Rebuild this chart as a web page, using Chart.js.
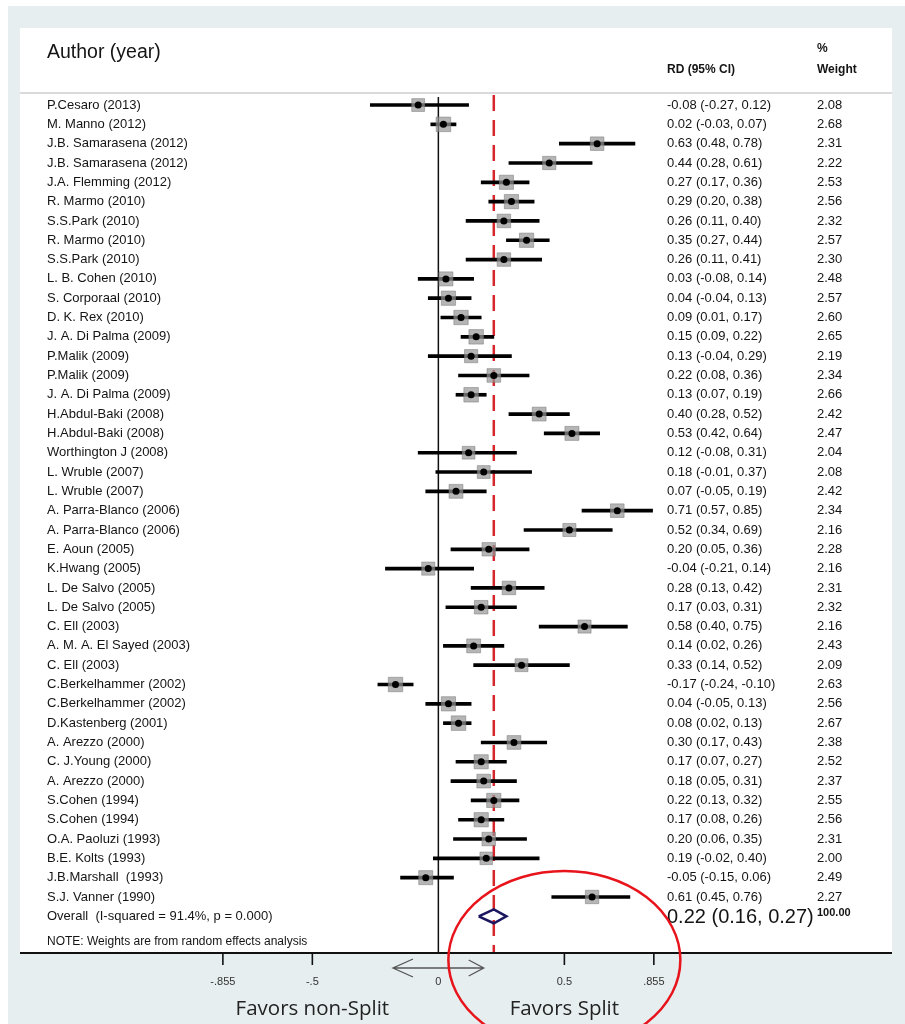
<!DOCTYPE html>
<html><head><meta charset="utf-8">
<script src="https://cdn.jsdelivr.net/npm/chart.js@4.4.0/dist/chart.umd.min.js"></script>
<style>html,body{margin:0;padding:0;background:#fff;}#wrap{position:relative;width:905px;height:1024px;}</style>
</head><body><div id="wrap"><canvas id="c"></canvas></div>
<script>
const studies = ["P.Cesaro (2013)","M. Manno (2012)","J.B. Samarasena (2012)","J.B. Samarasena (2012)","J.A. Flemming (2012)","R. Marmo (2010)","S.S.Park (2010)","R. Marmo (2010)","S.S.Park (2010)","L. B. Cohen (2010)","S. Corporaal (2010)","D. K. Rex (2010)","J. A. Di Palma (2009)","P.Malik (2009)","P.Malik (2009)","J. A. Di Palma (2009)","H.Abdul-Baki (2008)","H.Abdul-Baki (2008)","Worthington J (2008)","L. Wruble (2007)","L. Wruble (2007)","A. Parra-Blanco (2006)","A. Parra-Blanco (2006)","E. Aoun (2005)","K.Hwang (2005)","L. De Salvo (2005)","L. De Salvo (2005)","C. Ell (2003)","A. M. A. El Sayed (2003)","C. Ell (2003)","C.Berkelhammer (2002)","C.Berkelhammer (2002)","D.Kastenberg (2001)","A. Arezzo (2000)","C. J.Young (2000)","A. Arezzo (2000)","S.Cohen (1994)","S.Cohen (1994)","O.A. Paoluzi (1993)","B.E. Kolts (1993)","J.B.Marshall  (1993)","S.J. Vanner (1990)"];
const rd =     [-0.08,0.02,0.63,0.44,0.27,0.29,0.26,0.35,0.26,0.03,0.04,0.09,0.15,0.13,0.22,0.13,0.40,0.53,0.12,0.18,0.07,0.71,0.52,0.20,-0.04,0.28,0.17,0.58,0.14,0.33,-0.17,0.04,0.08,0.30,0.17,0.18,0.22,0.17,0.20,0.19,-0.05,0.61];
const ciLow =  [-0.27,-0.03,0.48,0.28,0.17,0.20,0.11,0.27,0.11,-0.08,-0.04,0.01,0.09,-0.04,0.08,0.07,0.28,0.42,-0.08,-0.01,-0.05,0.57,0.34,0.05,-0.21,0.13,0.03,0.40,0.02,0.14,-0.24,-0.05,0.02,0.17,0.07,0.05,0.13,0.08,0.06,-0.02,-0.15,0.45];
const ciHigh = [0.12,0.07,0.78,0.61,0.36,0.38,0.40,0.44,0.41,0.14,0.13,0.17,0.22,0.29,0.36,0.19,0.52,0.64,0.31,0.37,0.19,0.85,0.69,0.36,0.14,0.42,0.31,0.75,0.26,0.52,-0.10,0.13,0.13,0.43,0.27,0.31,0.32,0.26,0.35,0.40,0.06,0.76];
const weights = [2.08,2.68,2.31,2.22,2.53,2.56,2.32,2.57,2.30,2.48,2.57,2.60,2.65,2.19,2.34,2.66,2.42,2.47,2.04,2.08,2.42,2.34,2.16,2.28,2.16,2.31,2.32,2.16,2.43,2.09,2.63,2.56,2.67,2.38,2.52,2.37,2.55,2.56,2.31,2.00,2.49,2.27];
const overallLabel = "Overall  (I-squared = 91.4%, p = 0.000)";
const overallRD = 0.22, overallLow = 0.16, overallHigh = 0.27, overallWeight = 100.00;
const tickValues = [-0.855, -0.5, 0, 0.5, 0.855];
const tickLabels = ["-.855", "-.5", "0", "0.5", ".855"];

const FONT = '"Liberation Sans", Arial, sans-serif';
const X_MIN = -1.66, X_MAX = 1.80, Y_MIN = -0.52, Y_MAX = 43.9;
const OVERALL_ROW = studies.length;
const fmt = v => v.toFixed(2);

const ciData = studies.map((s, i) => ({ y: i, x: [ciLow[i], ciHigh[i]] }));
const pointData = studies.map((s, i) => ({ x: rd[i], y: i }));
const diamondH = 0.36;
const diamondData = [
  { x: overallLow, y: OVERALL_ROW }, { x: overallRD, y: OVERALL_ROW - diamondH },
  { x: overallHigh, y: OVERALL_ROW }, { x: overallRD, y: OVERALL_ROW + diamondH },
  { x: overallLow, y: OVERALL_ROW }
];

const decor = {
  id: 'decor',
  beforeDraw(chart) {
    const c = chart.ctx;
    c.save();
    c.fillStyle = '#ffffff'; c.fillRect(0, 0, 905, 1024);
    c.fillStyle = '#e7eef0'; c.fillRect(8, 6, 897, 1018);
    const a = chart.chartArea;
    c.fillStyle = '#ffffff'; c.fillRect(a.left, 28, a.right - a.left, a.bottom - 28);
    c.restore();
  },
  afterDraw(chart) {
    const c = chart.ctx, xs = chart.scales.x, ys = chart.scales.y, a = chart.chartArea;
    c.save();
    // header
    c.fillStyle = '#141414';
    c.textBaseline = 'alphabetic';
    c.font = '19.5px ' + FONT;
    c.fillText('Author (year)', 47, 58);
    c.font = 'bold 12px ' + FONT;
    c.fillText('RD (95% CI)', 667, 73);
    c.fillText('%', 817, 52);
    c.fillText('Weight', 817, 73);
    c.strokeStyle = '#b5b5b5'; c.lineWidth = 1.2;
    c.beginPath(); c.moveTo(a.left, 93); c.lineTo(a.right, 93); c.stroke();
    // rows
    c.textBaseline = 'middle';
    c.font = '13px ' + FONT;
    studies.forEach((s, i) => {
      const y = ys.getPixelForValue(i);
      c.fillText(s, 47, y);
      c.fillText(fmt(rd[i]) + ' (' + fmt(ciLow[i]) + ', ' + fmt(ciHigh[i]) + ')', 667, y);
      c.fillText(fmt(weights[i]), 817, y);
    });
    const oy = ys.getPixelForValue(OVERALL_ROW);
    c.fillText(overallLabel, 47, oy);
    c.font = '20px ' + FONT;
    c.fillText(fmt(overallRD) + ' (' + fmt(overallLow) + ', ' + fmt(overallHigh) + ')', 667, oy + 1);
    c.font = 'bold 11px ' + FONT;
    c.fillText(overallWeight.toFixed(2), 817, oy - 3);
    c.font = '12px ' + FONT;
    c.fillText('NOTE: Weights are from random effects analysis', 47, 942);
    // axis
    c.strokeStyle = '#111'; c.lineWidth = 2.2;
    c.beginPath(); c.moveTo(a.left, a.bottom); c.lineTo(a.right, a.bottom); c.stroke();
    c.lineWidth = 1.6;
    c.font = '11px ' + FONT; c.textAlign = 'center'; c.fillStyle = '#333';
    tickValues.forEach((v, i) => {
      const x = xs.getPixelForValue(v);
      if (v !== 0) { c.beginPath(); c.moveTo(x, a.bottom); c.lineTo(x, a.bottom + 12); c.stroke(); }
      c.fillText(tickLabels[i], x, a.bottom + 29);
    });
    // double arrow
    const ax1 = xs.getPixelForValue(-0.18), ax2 = xs.getPixelForValue(0.18), ay = a.bottom + 15;
    c.strokeStyle = '#555'; c.lineWidth = 1.3;
    c.beginPath(); c.moveTo(ax1, ay); c.lineTo(ax2, ay);
    c.moveTo(ax1 + 20, ay - 9); c.lineTo(ax1, ay); c.lineTo(ax1 + 20, ay + 9);
    c.moveTo(ax2 - 15, ay - 8); c.lineTo(ax2, ay); c.lineTo(ax2 - 15, ay + 8);
    c.stroke();
    // favors labels
    c.fillStyle = '#222'; c.font = '20.5px "Open Sans", sans-serif';
    c.fillText('Favors non-Split', xs.getPixelForValue(-0.5), 1009);
    c.fillText('Favors Split', xs.getPixelForValue(0.5), 1009);
    // red ellipse
    c.strokeStyle = '#e8141c'; c.lineWidth = 2.5;
    c.beginPath(); c.ellipse(xs.getPixelForValue(0.5), 960, 116, 89, 0, 0, Math.PI * 2); c.stroke();
    c.restore();
  }
};

new Chart(document.getElementById('c'), {
  type: 'scatter',
  data: {
    datasets: [
      { type: 'scatter', data: pointData, pointStyle: 'circle', pointRadius: 3.5, backgroundColor: '#000', borderColor: '#000', borderWidth: 0 },
      { type: 'scatter', data: pointData, pointStyle: 'rect',
        pointRadius: ctx => 8.9 * Math.sqrt(weights[ctx.dataIndex]) / 1.414,
        backgroundColor: 'rgba(150,150,150,0.7)', borderColor: 'rgba(120,120,120,0.5)', borderWidth: 1 },
      { type: 'bar', indexAxis: 'y', data: ciData, backgroundColor: '#000', borderWidth: 0, barThickness: 3, grouped: false },
      { type: 'line', data: diamondData, borderColor: '#1b1660', borderWidth: 2.5, pointRadius: 0, fill: false, tension: 0 },
      { type: 'line', data: [{ x: overallRD, y: Y_MIN }, { x: overallRD, y: Y_MAX }], borderColor: '#d7262b', borderWidth: 2.5, borderDash: [16, 9], pointRadius: 0 },
      { type: 'line', data: [{ x: 0, y: Y_MIN + 0.1 }, { x: 0, y: Y_MAX }], borderColor: '#111', borderWidth: 1.5, pointRadius: 0 }
    ]
  },
  options: {
    responsive: true, maintainAspectRatio: false, animation: false,
    layout: { padding: { left: 20, right: 13, top: 95, bottom: 71 } },
    plugins: { legend: { display: false }, tooltip: { enabled: false } },
    scales: {
      x: { type: 'linear', min: X_MIN, max: X_MAX, display: false, offset: false },
      y: { type: 'linear', min: Y_MIN, max: Y_MAX, reverse: true, display: false, offset: false, beginAtZero: false }
    }
  },
  plugins: [decor]
});
</script></body></html>
